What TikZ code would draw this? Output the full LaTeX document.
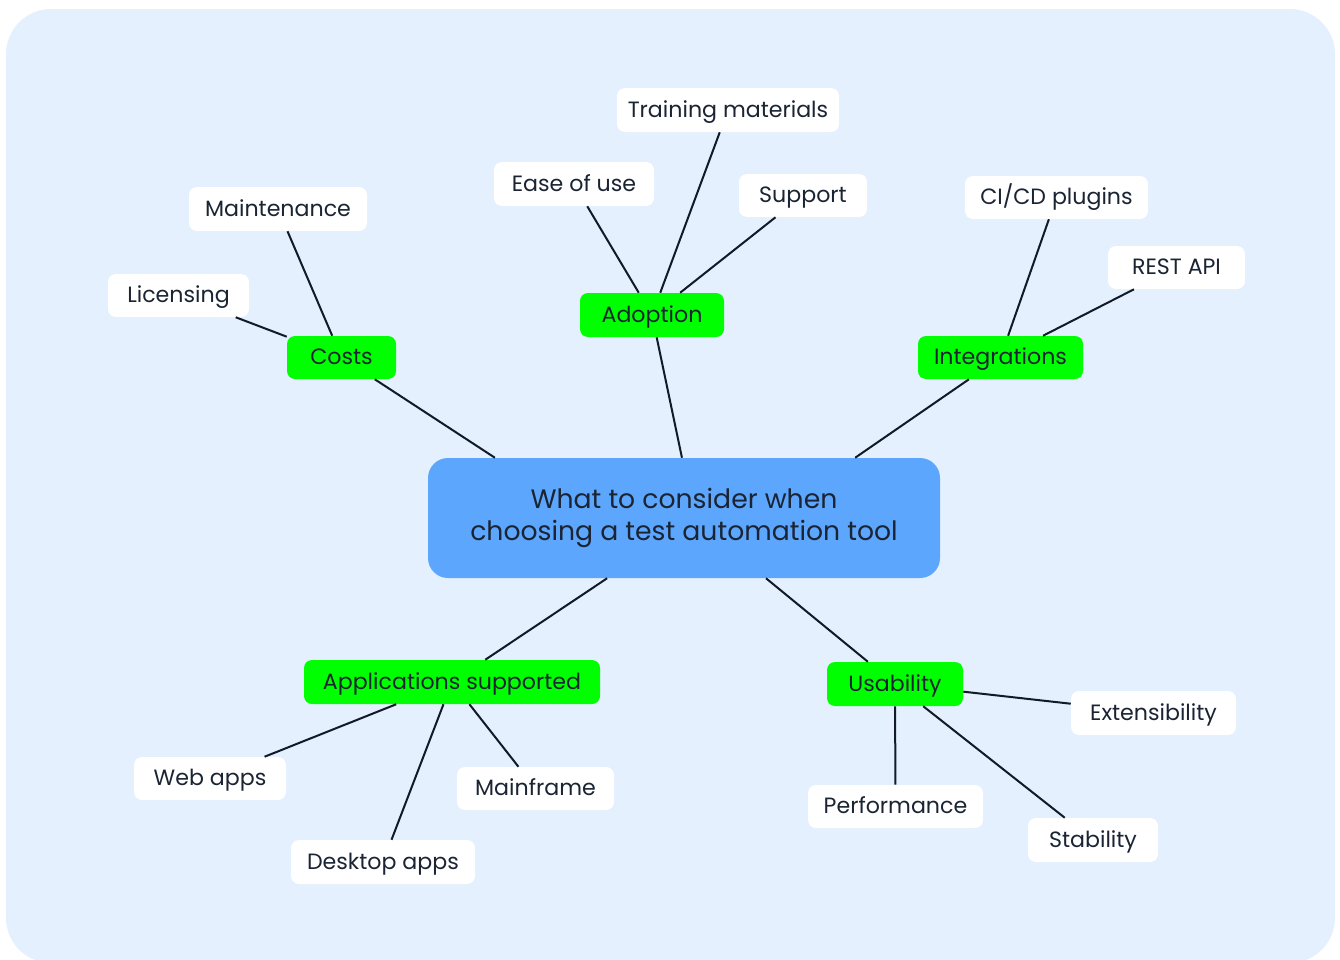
\documentclass[tikz,border=0pt]{standalone}
\usepackage{fontspec}
\setmainfont{Poppins}
\usetikzlibrary{calc}
\definecolor{bgblue}{HTML}{E4F0FD}
\definecolor{mainblue}{HTML}{5CA6FE}
\definecolor{leafgreen}{HTML}{00FF00}
\definecolor{inkc}{HTML}{1A2433}
\definecolor{linec}{HTML}{111A26}
\tikzset{
  sz/.style 2 args={minimum width=#1*0.75pt, minimum height=#2*0.75pt},
  basebox/.style={inner sep=0pt, rounded corners=6pt, text=inkc, font=\fontsize{16.6}{19}\selectfont, text height=1.1em, text depth=0em},
  leaf/.style={basebox, fill=white},
  branch/.style={basebox, fill=leafgreen},
  rootbox/.style={inner sep=0pt, rounded corners=15pt, fill=mainblue, text=inkc, align=center, font=\fontsize{20}{24}\selectfont},
  conn/.style={draw=linec, line width=1.5pt},
}
\begin{document}
\begin{tikzpicture}[x=0.75pt,y=-0.75pt]
\useasboundingbox (0,0) rectangle (1340,960);
\fill[white] (0,0) rectangle (1340,960);
\fill[bgblue, rounded corners=34pt] (6,9) rectangle (1335,963);

% root
\node[rootbox, sz={512}{120}] (root) at (684,518) {What to consider when\\choosing a test automation tool};

% branches
\node[branch, sz={109}{43}] (costs) at (341.5,357.5) {Costs};
\node[branch, sz={144}{44}] (adopt) at (652,315) {Adoption};
\node[branch, sz={165}{43}] (integ) at (1000.5,357.5) {Integrations};
\node[branch, sz={296}{44}] (apps) at (452,682) {Applications supported};
\node[branch, sz={136}{44}] (usab) at (895,684) {Usability};

% leaves
\node[leaf, sz={222}{44}] (train) at (728,110) {Training materials};
\node[leaf, sz={160}{44}] (ease) at (574,184) {Ease of use};
\node[leaf, sz={128}{43}] (supp) at (803,195.5) {Support};
\node[leaf, sz={178}{44}] (maint) at (278,209) {Maintenance};
\node[leaf, sz={141}{43}] (lic) at (178.5,295.5) {Licensing};
\node[leaf, sz={183}{43}] (cicd) at (1056.5,197.5) {CI/CD plugins};
\node[leaf, sz={137}{43}] (rest) at (1176.5,267.5) {REST API};
\node[leaf, sz={152}{43}] (web) at (210,778.5) {Web apps};
\node[leaf, sz={157}{43}] (mainf) at (535.5,788.5) {Mainframe};
\node[leaf, sz={184}{44}] (desk) at (383,862) {Desktop apps};
\node[leaf, sz={165}{44}] (ext) at (1153.5,713) {Extensibility};
\node[leaf, sz={175}{43}] (perf) at (895.5,806.5) {Performance};
\node[leaf, sz={130}{44}] (stab) at (1093,840) {Stability};

% anchor points on the root border
\coordinate (r1) at ($(root.north west)!0.131!(root.north east)$);
\coordinate (r2) at ($(root.north west)!0.496!(root.north east)$);
\coordinate (r3) at ($(root.north west)!0.834!(root.north east)$);
\coordinate (r4) at ($(root.south west)!0.350!(root.south east)$);
\coordinate (r5) at ($(root.south west)!0.660!(root.south east)$);

\draw[conn] (r1) -- (costs);
\draw[conn] (r2) -- (adopt);
\draw[conn] (r3) -- (integ);
\draw[conn] (r4) -- (apps);
\draw[conn] (r5) -- (usab);

\draw[conn] (costs) -- (lic);
\draw[conn] (costs) -- (maint);
\draw[conn] (adopt) -- (ease);
\draw[conn] (adopt) -- (train);
\draw[conn] (adopt) -- (supp);
\draw[conn] (integ) -- (cicd);
\draw[conn] (integ) -- (rest);
\draw[conn] (apps) -- (web);
\draw[conn] (apps) -- (desk);
\draw[conn] (apps) -- (mainf);
\draw[conn] (usab) -- (ext);
\draw[conn] (usab) -- (perf);
\draw[conn] (usab) -- (stab);
\end{tikzpicture}
\end{document}
